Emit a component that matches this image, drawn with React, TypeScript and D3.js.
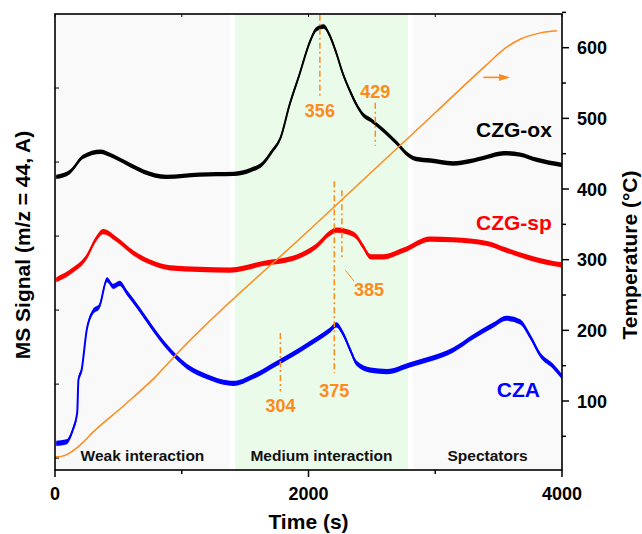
import React from 'react';
import * as d3 from 'd3';

// ---------------- data ----------------
const czgOxTime = [10, 120, 220, 360, 430, 570, 700, 880, 1140, 1410, 1540, 1640, 1710, 1780, 1850, 1930, 2010, 2060, 2120, 2170, 2220, 2270, 2330, 2380, 2430, 2490, 2590, 2700, 2770, 2850, 2960, 3140, 3270, 3410, 3540, 3670, 3800, 4000];
const czgOxSignal = [3.80, 3.87, 4.07, 4.14, 4.10, 3.98, 3.87, 3.80, 3.83, 3.84, 3.89, 3.98, 4.14, 4.33, 4.77, 5.19, 5.62, 5.79, 5.83, 5.70, 5.47, 5.20, 4.95, 4.77, 4.64, 4.57, 4.43, 4.25, 4.12, 4.04, 4.02, 3.98, 4.01, 4.07, 4.12, 4.10, 4.03, 3.96];

const czgSpTime = [10, 140, 250, 320, 380, 490, 620, 750, 910, 1140, 1380, 1640, 1910, 2060, 2170, 2220, 2300, 2380, 2430, 2490, 2590, 2750, 2960, 3140, 3410, 3560, 3720, 3930, 4000];
const czgSpSignal = [2.41, 2.54, 2.72, 2.95, 3.06, 2.95, 2.77, 2.65, 2.57, 2.55, 2.54, 2.63, 2.72, 2.86, 3.04, 3.08, 3.06, 2.99, 2.86, 2.72, 2.72, 2.81, 2.96, 2.95, 2.90, 2.81, 2.72, 2.63, 2.61];

const czaTime = [10, 90, 140, 175, 185, 210, 250, 300, 350, 410, 460, 510, 570, 670, 780, 880, 1040, 1200, 1410, 1560, 1750, 1930, 2060, 2170, 2220, 2270, 2330, 2380, 2490, 2620, 2800, 2960, 3140, 3300, 3460, 3560, 3670, 3750, 3830, 3930, 4000];
const czaSignal = [0.20, 0.22, 0.38, 0.61, 1.06, 1.19, 1.73, 1.98, 2.05, 2.41, 2.32, 2.36, 2.23, 2.00, 1.73, 1.51, 1.24, 1.10, 1.01, 1.10, 1.28, 1.46, 1.60, 1.73, 1.80, 1.69, 1.46, 1.28, 1.19, 1.17, 1.26, 1.34, 1.46, 1.64, 1.80, 1.89, 1.84, 1.64, 1.39, 1.24, 1.10];

const tempTime = [0, 60, 120, 200, 300, 540, 780, 1000, 2000, 3000, 3400, 3550, 3670, 3830, 3960];
const tempValue = [21, 22, 27, 38, 56, 93, 132, 174, 341, 508, 575, 599, 612, 621, 624];

const regionNames = ['Weak interaction', 'Medium interaction', 'Spectators'];
const regionStart = [0, 1420, 2825];
const regionEnd = [1380, 2785, 4000];

const markerTemps = [356, 429, 385, 375, 304];

const xTicks = [0, 1000, 2000, 3000, 4000];
const xTickLabels = ['0', '', '2000', '', '4000'];
const tempTicks = [100, 200, 300, 400, 500, 600];
const tempMinorTicks = [50, 150, 250, 350, 450, 550, 650];
const signalTicks = [0, 1, 2, 3, 4, 5];

// ---------------- layout / style ----------------
const WIDTH = 642, HEIGHT = 534;
const M = { top: 14, right: 80, bottom: 64, left: 55 };
const X0 = M.left, X1 = WIDTH - M.right, Y0 = M.top, Y1 = HEIGHT - M.bottom;
const FONT = "'Liberation Sans', Arial, Helvetica, sans-serif";
const ORANGE = '#FF8A1C';

const x = d3.scaleLinear().domain([0, 4000]).range([X0, X1]);
const ySig = d3.scaleLinear().domain([-0.16, 6.0]).range([Y1, Y0]);
const yTemp = d3.scaleLinear().domain([2.35, 647.7]).range([Y1, Y0]);

const timeAtTemp = d3.scaleLinear().domain(tempValue).range(tempTime);

const series = [
  { name: 'CZG-ox', color: '#000000', time: czgOxTime, signal: czgOxSignal, noise: 0.03, lt: 3920, lv: 4.34 },
  { name: 'CZG-sp', color: '#FF0000', time: czgSpTime, signal: czgSpSignal, noise: 0.035, lt: 3920, lv: 3.08 },
  { name: 'CZA', color: '#0000FF', time: czaTime, signal: czaSignal, noise: 0.035, lt: 3826, lv: 0.83 },
];

// per-marker layout (signal extents of the dash-dot lines and label placement)
const markerLayout: Record<string, { v0: number; v1: number; lv: number; lt?: number; leader?: [number, number, number, number] }> = {
  '356': { v0: 5.99, v1: 4.88, lv: 4.61 },
  '429': { v0: 4.80, v1: 4.22, lv: 4.86 },
  '385': { v0: 3.62, v1: 2.68, lv: 2.19, lt: 2477, leader: [2290, 2.54, 2360, 2.39] },
  '375': { v0: 3.74, v1: 1.15, lv: 0.82 },
  '304': { v0: 1.69, v1: 0.90, lv: 0.62 },
};

const regionFill = ['#F9F9F9', '#EAFBEA', '#F9F9F9'];

export default function App() {
  const lineGen = d3.line<[number, number]>()
    .x(d => x(d[0])).y(d => ySig(d[1])).curve(d3.curveMonotoneX);
  const tempLine = d3.line<[number, number]>()
    .x(d => x(d[0])).y(d => yTemp(d[1])).curve(d3.curveMonotoneX);

  const tempPts: [number, number][] = tempTime.map((t, i) => [t, tempValue[i]]);

  const arrowT0 = 3380, arrowT1 = 3590, arrowTemp = 558;

  return (
    <svg width={WIDTH} height={HEIGHT} style={{ position: 'absolute', left: 0, top: 0, background: '#fff' }} fontFamily={FONT}>
      <defs>
        <clipPath id="plotClip">
          <rect x={X0} y={Y0} width={X1 - X0} height={Y1 - Y0} />
        </clipPath>
      </defs>
      <rect x={0} y={0} width={WIDTH} height={HEIGHT} fill="#fff" />
      {/* regions */}
      {regionNames.map((n, i) => (
        <rect key={n} x={x(regionStart[i])} y={Y0} width={x(regionEnd[i]) - x(regionStart[i])} height={Y1 - Y0} fill={regionFill[i]} />
      ))}

      {/* series */}
      <g clipPath="url(#plotClip)">
        {series.map(s => {
          const pts: [number, number][] = s.time.map((t, i) => [t, s.signal[i]]);
          const areaGen = d3.area<[number, number]>()
            .x(d => x(d[0])).y0(d => ySig(d[1] - s.noise)).y1(d => ySig(d[1] + s.noise))
            .curve(d3.curveMonotoneX);
          return (
            <g key={s.name}>
              <path d={areaGen(pts) || ''} fill={s.color} />
              <path d={lineGen(pts) || ''} fill="none" stroke={s.color} strokeWidth={2} />
            </g>
          );
        })}
        {/* temperature */}
        <path d={tempLine(tempPts) || ''} fill="none" stroke={ORANGE} strokeWidth={1.5} />
      </g>

      {/* arrow to the temperature axis */}
      <line x1={x(arrowT0)} x2={x(arrowT1) - 8} y1={yTemp(arrowTemp)} y2={yTemp(arrowTemp)} stroke={ORANGE} strokeWidth={1.6} />
      <path d={`M${x(arrowT1)},${yTemp(arrowTemp)} L${x(arrowT1) - 11},${yTemp(arrowTemp) - 3.5} L${x(arrowT1) - 11},${yTemp(arrowTemp) + 3.5} Z`} fill={ORANGE} />

      {/* markers */}
      {markerTemps.map(T => {
        const L = markerLayout[String(T)];
        const t = timeAtTemp(T);
        const lx = x(L.lt ?? t);
        return (
          <g key={T}>
            <line x1={x(t)} x2={x(t)} y1={ySig(L.v0)} y2={ySig(L.v1)} stroke={ORANGE} strokeWidth={1.5} strokeDasharray="6,3,2,3" />
            {L.leader && (
              <line x1={x(L.leader[0])} y1={ySig(L.leader[1])} x2={x(L.leader[2])} y2={ySig(L.leader[3])} stroke={ORANGE} strokeWidth={1} />
            )}
            <text x={lx} y={ySig(L.lv)} textAnchor="middle" fontSize={18} fontWeight="bold" fill={ORANGE}>{T}</text>
          </g>
        );
      })}

      {/* series labels */}
      {series.map(s => (
        <text key={s.name} x={x(s.lt)} y={ySig(s.lv)} textAnchor="end" fontSize={21} fontWeight="bold" fill={s.color}>{s.name}</text>
      ))}

      {/* region labels */}
      {regionNames.map((n, i) => (
        <text key={n} x={x((regionStart[i] + regionEnd[i]) / 2)} y={ySig(-0.04)} textAnchor="middle" fontSize={15.5} fontWeight="bold" fill="#111">{n}</text>
      ))}

      {/* frame */}
      <rect x={X0} y={Y0} width={X1 - X0} height={Y1 - Y0} fill="none" stroke="#000" strokeWidth={1.6} />

      {/* bottom axis */}
      {xTicks.map((t, i) => {
        const major = xTickLabels[i] !== '';
        return (
          <g key={'xb' + t}>
            <line x1={x(t)} x2={x(t)} y1={Y1} y2={Y1 + (major ? 7 : 4)} stroke="#000" strokeWidth={1.5} />
            <line x1={x(t)} x2={x(t)} y1={Y0} y2={Y0 + 3} stroke="#000" strokeWidth={1} />
            {major && <text x={x(t)} y={Y1 + 30} textAnchor="middle" fontSize={18} fontWeight="bold">{xTickLabels[i]}</text>}
          </g>
        );
      })}

      {/* left axis (no labels) */}
      {signalTicks.map(v => (
        <line key={'yl' + v} x1={X0} x2={X0 + 4} y1={ySig(v)} y2={ySig(v)} stroke="#000" strokeWidth={1} />
      ))}

      {/* right axis */}
      {tempTicks.map(T => (
        <g key={'yr' + T}>
          <line x1={X1} x2={X1 + 7} y1={yTemp(T)} y2={yTemp(T)} stroke="#000" strokeWidth={1.5} />
          <text x={X1 + 15} y={yTemp(T) + 6.5} fontSize={18} fontWeight="bold">{T}</text>
        </g>
      ))}
      {tempMinorTicks.map(T => (
        <line key={'yrm' + T} x1={X1} x2={X1 + 4} y1={yTemp(T)} y2={yTemp(T)} stroke="#000" strokeWidth={1.5} />
      ))}

      {/* axis titles */}
      <text x={x(2000)} y={529} textAnchor="middle" fontSize={21} fontWeight="bold">Time (s)</text>
      <text transform={`translate(30,245) rotate(-90)`} textAnchor="middle" fontSize={21} fontWeight="bold">MS Signal (m/z = 44, A)</text>
      <text transform={`translate(637,255) rotate(-90)`} textAnchor="middle" fontSize={21} fontWeight="bold">Temperature (°C)</text>
    </svg>
  );
}
